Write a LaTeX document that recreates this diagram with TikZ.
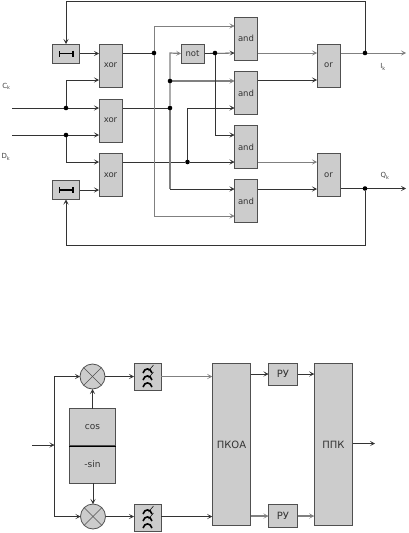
\documentclass[tikz,border=0pt]{standalone}
\usepackage{fontspec}
\setmainfont{DejaVu Sans}
\usepackage{xcolor}
\usetikzlibrary{arrows.meta, calc, backgrounds}
\definecolor{boxGrey}{HTML}{CCCCCC}
\definecolor{boxEdge}{HTML}{505050}
\definecolor{wireDark}{HTML}{333333}
\definecolor{wirePale}{HTML}{808080}

\begin{document}
\begin{tikzpicture}[
    x=1pt, y=-1pt,
    gate/.style={rectangle, draw=boxEdge, fill=boxGrey, line width=0.8pt, minimum width=23pt, minimum height=43pt,
      inner sep=0pt, outer sep=0pt, font=\fontsize{8.5}{9.5}\selectfont, text=black!80, align=center},
    delaybox/.style={gate, minimum width=27pt, minimum height=19pt},
    tallbox/.style={gate, minimum width=38.5pt, minimum height=161.5pt, font=\fontsize{10}{11}\selectfont},
    rubox/.style={gate, minimum width=29pt, minimum height=22pt, font=\fontsize{10}{11}\selectfont},
    halfbox/.style={gate, minimum width=46.5pt, minimum height=37.5pt, font=\fontsize{9}{10}\selectfont},
    filtbox/.style={gate, minimum width=27pt, minimum height=27.5pt},
    mixer/.style={circle, draw=boxEdge, fill=boxGrey, line width=0.8pt, minimum size=25pt, inner sep=0pt, outer sep=0pt},
    joint/.style={circle, fill=black, minimum size=4.6pt, inner sep=0pt, outer sep=0pt},
    sigtext/.style={font=\fontsize{7}{8}\selectfont, text=black!75, inner sep=0pt},
    wire/.style={draw=wireDark, line width=0.8pt},
    wirepale/.style={draw=wirePale, line width=1.2pt},
    warr/.style={-{Stealth[length=5pt, width=5pt, inset=2.5pt]}},
    barmark/.style={{Bar[width=6pt]}-{Bar[width=6pt]}, line width=1.6pt, draw=black},
    filtermark/.pic={
      \foreach \fy in {-7,0,7} {
        \draw[line width=1.6pt, black] (-4.5,\fy+3) .. controls (-3,\fy-2.5) and (3,\fy-2.5) .. (4.5,\fy+3);
      }
      \foreach \fy in {-7,0} {
        \draw[line width=0.5pt, black] (1,\fy+1) -- (6,\fy-5);
      }
    }
  ]
  \useasboundingbox (0,0) rectangle (408,533);

  % upper scheme: gates
  \node[delaybox] (delayTop) at (66,53.5) {};
  \node[delaybox] (delayBot) at (66,190) {};
  \node[gate] (xorTop) at (110.5,65.5) {xor};
  \node[gate] (xorMid) at (110.5,120.5) {xor};
  \node[gate] (xorBot) at (110.5,175) {xor};
  \node[delaybox, minimum width=23pt] (notGate) at (192.5,53.5) {not};
  \node[gate] (andA) at (246,38.5) {and};
  \node[gate] (andB) at (246,93) {and};
  \node[gate] (andC) at (246,147) {and};
  \node[gate] (andD) at (246,201) {and};
  \node[gate] (orTop) at (328.5,65.5) {or};
  \node[gate] (orBot) at (328.5,175) {or};

  \draw[barmark] ([xshift=-7.5pt]delayTop.center) -- ([xshift=7.5pt]delayTop.center);
  \draw[barmark] ([xshift=-7.5pt]delayBot.center) -- ([xshift=7.5pt]delayBot.center);

  % joints and free ends
  \node[joint] (dotCk) at (66,108) {};
  \node[joint] (dotDk) at (66,135) {};
  \node[joint] (dotXorA) at (154,53) {};
  \node[joint] (dotXorB) at (170,108) {};
  \node[joint] (dotAndB) at (170,81) {};
  \node[joint] (dotNot) at (215,53) {};
  \node[joint] (dotXorC) at (187.5,162) {};
  \node[joint] (dotI) at (365,53) {};
  \node[joint] (dotQ) at (365,188.5) {};
  \coordinate (inCk) at (12,108);
  \coordinate (inDk) at (12,135);
  \coordinate (outI) at (406,53);
  \coordinate (outQ) at (406,188.5);
  \coordinate (topRail) at (66,1);
  \coordinate (botRail) at (66,245);
  \coordinate (railA) at (154,26);
  \coordinate (railD) at (154,216);
  \coordinate (railNot) at (170,53);
  \coordinate (railC) at (170,189);
  \coordinate (railB) at (187.5,108);
  \coordinate (railE) at (215,135);
  \coordinate (railCk) at (66,80);
  \coordinate (railDk) at (66,162);

  \node[sigtext] (labelCk) at (6.5,86.5) {C$_{\mathrm{k}}$};
  \node[sigtext] (labelDk) at (6,157) {D$_{\mathrm{k}}$};
  \node[sigtext] (labelI) at (383,67) {I$_{\mathrm{k}}$};
  \node[sigtext] (labelQ) at (385,176) {Q$_{\mathrm{k}}$};

  \begin{scope}[on background layer]
  % inputs of the xor row
  \draw[wire, warr] (delayTop.east) -- (delayTop.east -| xorTop.west);
  \draw[wire, warr] (delayBot.east) -- (delayBot.east -| xorBot.west);
  \draw[wire] (inCk) -- (dotCk);
  \draw[wire, warr] (dotCk) -- (dotCk -| xorMid.west);
  \draw[wire, warr] (dotCk) -- (railCk) -- (railCk -| xorTop.west);
  \draw[wire] (inDk) -- (dotDk);
  \draw[wire, warr] (dotDk) -- (dotDk -| xorMid.west);
  \draw[wire, warr] (dotDk) -- (railDk) -- (railDk -| xorBot.west);

  % xor outputs to the and row
  \draw[wire] (dotXorA -| xorTop.east) -- (dotXorA);
  \draw[wire] (dotXorB -| xorMid.east) -- (dotXorB);
  \draw[wire] (dotXorC -| xorBot.east) -- (dotXorC);
  \draw[wirepale, warr, line width=0.9pt] (dotXorA) -- (railA) -- (railA -| andA.west);
  \draw[wirepale, warr, line width=0.9pt] (dotXorA) -- (railD) -- (railD -| andD.west);
  \draw[wirepale, warr] (dotXorB) -- (railNot) -- (notGate.west);
  \draw[wirepale] (dotXorB) -- (railC);
  \draw[wire, warr] (railC) -- (railC -| andD.west);
  \draw[wirepale, warr] (dotAndB) -- (dotAndB -| andB.west);
  \draw[wire, warr] (notGate.east) -- (dotNot -| andA.west);
  \draw[wire, warr] (dotNot) -- (railE) -- (railE -| andC.west);
  \draw[wire, warr] (dotXorC) -- (dotXorC -| andC.west);
  \draw[wire, warr] (dotXorC) -- (railB) -- (railB -| andB.west);

  % or row and feedback
  \draw[wirepale, warr, line width=1pt] (andA.east |- dotI) -- (dotI -| orTop.west);
  \draw[wire, warr] (andB.east |- railCk) -- (railCk -| orTop.west);
  \draw[wirepale, warr, line width=1pt] (andC.east |- dotXorC) -- (dotXorC -| orBot.west);
  \draw[wire, warr] (andD.east |- railC) -- (railC -| orBot.west);
  \draw[wirepale, line width=1pt] (dotI -| orTop.east) -- (dotI);
  \draw[wirepale, warr, line width=1pt] (dotI) -- (outI);
  \draw[wire] (dotQ -| orBot.east) -- (dotQ);
  \draw[wire, warr] (dotQ) -- (outQ);
  \draw[wire, warr] (dotI) |- (topRail) -- (delayTop.north);
  \draw[wire, warr] (dotQ) |- (botRail) -- (delayBot.south);
  \end{scope}

  % lower scheme
  \node[mixer] (mixTop) at (92.5,376.5) {};
  \node[mixer] (mixBot) at (93,516.5) {};
  \node[halfbox] (cosBox) at (92.5,427.5) {cos};
  \node[halfbox] (sinBox) at (92.5,464.5) {-sin};
  \node[filtbox] (filtTop) at (147.5,377) {};
  \node[filtbox] (filtBot) at (147.5,518) {};
  \node[tallbox] (pkoa) at (231.5,444.5) {ПКОА};
  \node[rubox] (ruTop) at (283,374) {РУ};
  \node[rubox, minimum height=23pt] (ruBot) at (283,516) {РУ};
  \node[tallbox] (ppk) at (333.5,444.5) {ППК};

  \draw[black, line width=1.1pt] (cosBox.south west) -- (cosBox.south east);
  \draw[boxEdge, line width=0.6pt] (mixTop.north west) -- (mixTop.south east);
  \draw[boxEdge, line width=0.6pt] (mixTop.north east) -- (mixTop.south west);
  \draw[boxEdge, line width=0.6pt] (mixBot.north west) -- (mixBot.south east);
  \draw[boxEdge, line width=0.6pt] (mixBot.north east) -- (mixBot.south west);
  \pic at (filtTop.center) {filtermark};
  \pic at (filtBot.center) {filtermark};

  \coordinate (inSig) at (32,445);
  \coordinate (busMid) at (54.5,445);
  \coordinate (busTop) at (54.5,376.5);
  \coordinate (busBot) at (54.5,516.5);
  \coordinate (outPpk) at (375,443.5);

  \draw[wire, warr] (inSig) -- (busMid);
  \draw[wire, warr] (busMid) -- (busTop) -- (mixTop.west);
  \draw[wire, warr] (busMid) -- (busBot) -- (mixBot.west);
  \draw[wire, warr] (cosBox.north -| mixTop.south) -- (mixTop.south);
  \draw[wire, warr] (sinBox.south -| mixBot.north) -- (mixBot.north);
  \draw[wire, warr] (mixTop.east) -- (filtTop.west |- mixTop.east);
  \draw[wire, warr] (mixBot.east) -- (filtBot.west |- mixBot.east);
  \draw[wirepale, warr] (filtTop.east |- mixTop.east) -- (pkoa.west |- mixTop.east);
  \draw[wire, warr] (filtBot.east |- mixBot.east) -- (pkoa.west |- mixBot.east);
  \draw[wire, warr] (pkoa.east |- ruTop.west) -- (ruTop.west);
  \draw[wirepale, warr] (pkoa.east |- ruBot.west) -- (ruBot.west);
  \draw[wire, warr] (ruTop.east) -- (ppk.west |- ruTop.east);
  \draw[wirepale, warr] (ruBot.east) -- (ppk.west |- ruBot.east);
  \draw[wire, warr] (ppk.east |- outPpk) -- (outPpk);
\end{tikzpicture}
\end{document}
